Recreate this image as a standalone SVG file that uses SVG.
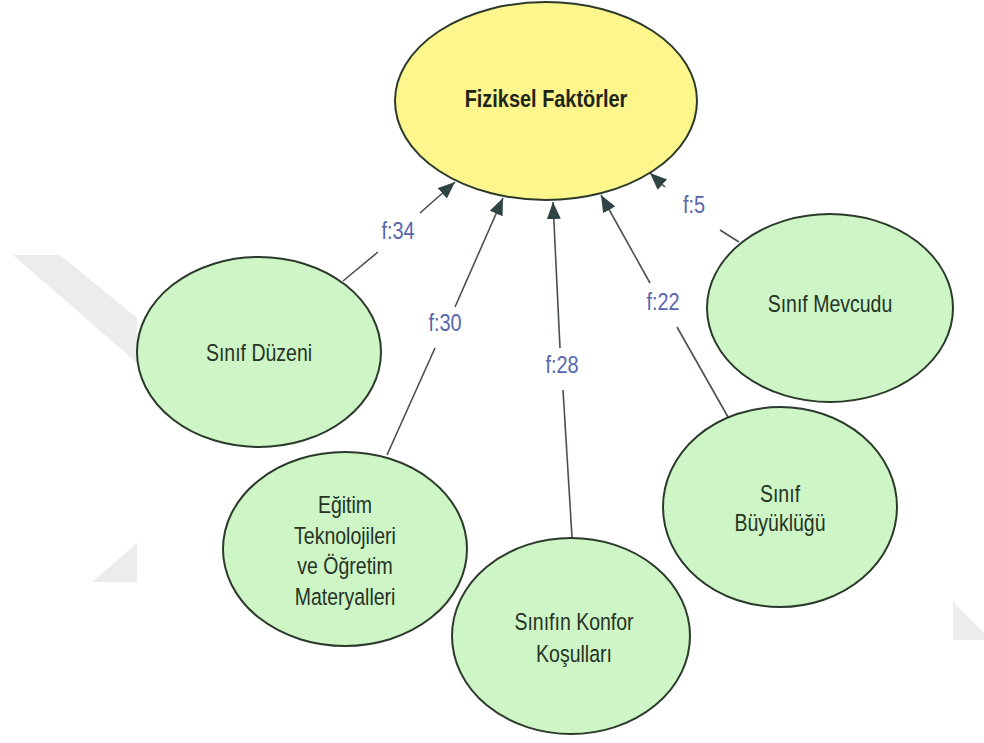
<svg xmlns="http://www.w3.org/2000/svg" width="984" height="743" viewBox="0 0 984 743">
<style>
.node ellipse{stroke:#2b3a2b;stroke-width:2}
.green{fill:#cdf5c5}
.yellow{fill:#fdf68c}
.lbl{font-family:"Liberation Sans",Arial,sans-serif;font-size:23.5px;fill:#263326;text-anchor:middle}
.title{font-family:"Liberation Sans",Arial,sans-serif;font-size:24px;font-weight:bold;fill:#1e2418;text-anchor:middle}
.edge line{stroke:#4a4f4f;stroke-width:1.6}
.elbl{font-family:"Liberation Sans",Arial,sans-serif;font-size:24px;fill:#5666ae;text-anchor:middle}
.wm{fill:#ececec}
</style>
<defs>
<marker id="arr" markerUnits="userSpaceOnUse" markerWidth="18" markerHeight="16" refX="17" refY="7" orient="auto">
<path d="M0,0 L17,7 L0,14 z" fill="#2f4545"/>
</marker>
</defs>
<rect width="984" height="743" fill="#ffffff"/>
<g id="watermark">
<polygon class="wm" points="13,255 60,255 137,318 137,363"/>
<polygon class="wm" points="92,582 137,582 137,543"/>
<polygon class="wm" points="953,602 984,633 984,640 953,640"/>
</g>
<g id="connectors" class="edge">
<line x1="343" y1="281" x2="378" y2="252"/>
<line x1="420" y1="213" x2="455" y2="182" marker-end="url(#arr)"/>
<line x1="387" y1="455" x2="435" y2="348"/>
<line x1="455" y1="307" x2="503" y2="198" marker-end="url(#arr)"/>
<line x1="572" y1="537" x2="563" y2="390"/>
<line x1="560" y1="348" x2="553" y2="202" marker-end="url(#arr)"/>
<line x1="728" y1="417" x2="677" y2="327"/>
<line x1="650" y1="283" x2="601" y2="195" marker-end="url(#arr)"/>
<line x1="739" y1="242" x2="720" y2="230"/>
<line x1="665" y1="187" x2="650" y2="173" marker-end="url(#arr)"/>
<text class="elbl" transform="translate(398,239) scale(0.83,1)">f:34</text>
<text class="elbl" transform="translate(445,331) scale(0.83,1)">f:30</text>
<text class="elbl" transform="translate(562,373) scale(0.83,1)">f:28</text>
<text class="elbl" transform="translate(663,310) scale(0.83,1)">f:22</text>
<text class="elbl" transform="translate(694,213) scale(0.83,1)">f:5</text>
</g>
<g id="node-fiziksel" class="node">
<ellipse class="yellow" cx="546" cy="101" rx="151" ry="99"/>
<text class="title" transform="translate(546,107) scale(0.83,1)">Fiziksel Faktörler</text>
</g>
<g id="node-duzen" class="node">
<ellipse class="green" cx="259" cy="352" rx="122" ry="95"/>
<text class="lbl" transform="translate(259,361) scale(0.83,1)">Sınıf Düzeni</text>
</g>
<g id="node-egitim" class="node">
<ellipse class="green" cx="345" cy="549" rx="122" ry="97"/>
<text class="lbl" transform="translate(345,513) scale(0.83,1)"><tspan x="0" y="0">Eğitim</tspan><tspan x="0" y="31">Teknolojileri</tspan><tspan x="0" y="61">ve Öğretim</tspan><tspan x="0" y="92">Materyalleri</tspan></text>
</g>
<g id="node-konfor" class="node">
<ellipse class="green" cx="571" cy="636" rx="119" ry="98"/>
<text class="lbl" transform="translate(574,630) scale(0.83,1)"><tspan x="0" y="0">Sınıfın Konfor</tspan><tspan x="0" y="32">Koşulları</tspan></text>
</g>
<g id="node-buyukluk" class="node">
<ellipse class="green" cx="780" cy="507" rx="117" ry="100"/>
<text class="lbl" transform="translate(780,502) scale(0.83,1)"><tspan x="0" y="0">Sınıf</tspan><tspan x="0" y="29">Büyüklüğü</tspan></text>
</g>
<g id="node-mevcut" class="node">
<ellipse class="green" cx="830" cy="308" rx="123" ry="94"/>
<text class="lbl" transform="translate(830,312) scale(0.83,1)">Sınıf Mevcudu</text>
</g>
</svg>
